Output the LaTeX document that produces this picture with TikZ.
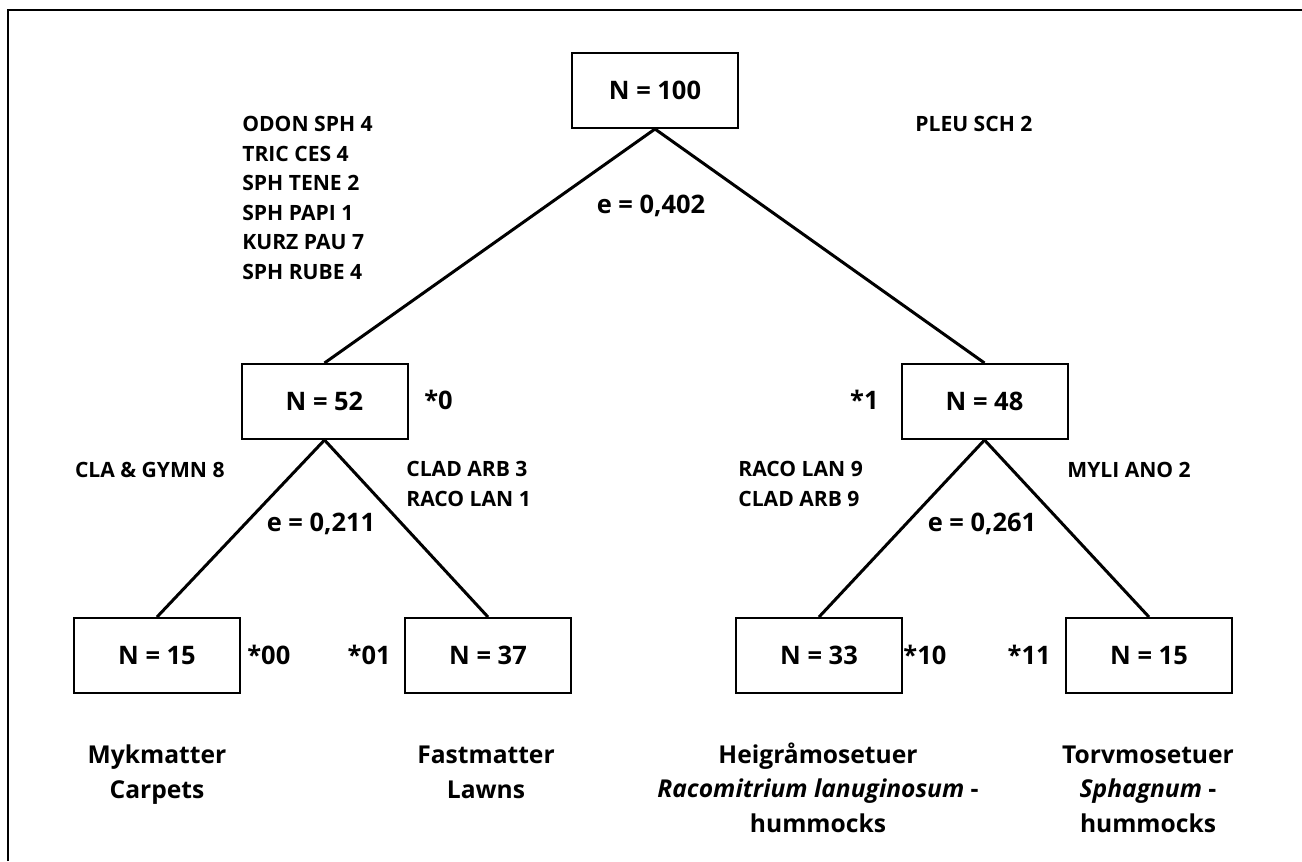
\documentclass[tikz,border=0pt]{standalone}
\usepackage{fontspec}
\setmainfont{Open Sans}

\begin{document}
\begin{tikzpicture}
[x=0.2mm, y=-0.2mm,
groupnode/.style={rectangle, draw=black, line width=0.4mm, minimum width=33.2mm, minimum height=15mm, font=\fontsize{14.5}{17}\selectfont\bfseries},
speciesnode/.style={align=left, inner sep=0pt, font=\fontsize{12}{16.8}\selectfont\bfseries},
splitnode/.style={inner sep=0pt, font=\fontsize{14.5}{17}\selectfont\bfseries},
typenode/.style={align=center, anchor=base, inner sep=0pt, font=\fontsize{14}{19.4}\selectfont\bfseries},
connect/.style={line width=0.6mm}]
\useasboundingbox (0,0) rectangle (1302,861);
\draw[line width=0.4mm] (8,861) |- (1302,10);
\node[groupnode]	(group100) at (655, 90.5) {N = 100};
\node[groupnode]	(group0) at (324.5, 401.5) {N = 52};
\node[groupnode]	(group1) at (984.5, 401.5) {N = 48};
\node[groupnode]	(group00) at (157, 655.5) {N = 15};
\node[groupnode]	(group01) at (488, 655.5) {N = 37};
\node[groupnode]	(group10) at (819, 655.5) {N = 33};
\node[groupnode]	(group11) at (1149, 655.5) {N = 15};
\draw[connect] (group100.south) -- (group0.north);
\draw[connect] (group100.south) -- (group1.north);
\draw[connect] (group0.south) -- (group00.north);
\draw[connect] (group0.south) -- (group01.north);
\draw[connect] (group1.south) -- (group10.north);
\draw[connect] (group1.south) -- (group11.north);
\node[splitnode, anchor=base] (split100) at (651, 213) {e = 0,402};
\node[splitnode, anchor=base] (split0) at (321, 531) {e = 0,211};
\node[splitnode, anchor=base] (split1) at (982, 531) {e = 0,261};
\node[splitnode, anchor=base west] (code0) at (424, 409) {*0};
\node[splitnode, anchor=base east] (code1) at (879, 409) {*1};
\node[splitnode, anchor=base west] (code00) at (247, 664) {*00};
\node[splitnode, anchor=base east] (code01) at (391, 664) {*01};
\node[splitnode, anchor=base west] (code10) at (903, 664) {*10};
\node[splitnode, anchor=base east] (code11) at (1051, 664) {*11};
\node[speciesnode, anchor=base west] (species0) at (242, 279.5) {ODON SPH 4\\TRIC CES 4\\SPH TENE 2\\SPH PAPI 1\\KURZ PAU 7\\SPH RUBE 4};
\node[speciesnode, anchor=base west] (species1) at (915, 131) {PLEU SCH 2};
\node[speciesnode, anchor=base east] (species00) at (225, 477) {CLA \& GYMN 8};
\node[speciesnode, anchor=base west] (species01) at (406, 506) {CLAD ARB 3\\RACO LAN 1};
\node[speciesnode, anchor=base west] (species10) at (738, 506) {RACO LAN 9\\CLAD ARB 9};
\node[speciesnode, anchor=base west] (species11) at (1067, 477) {MYLI ANO 2};
\node[typenode] (type00) at (157, 798) {Mykmatter\\Carpets};
\node[typenode] (type01) at (486, 798) {Fastmatter\\Lawns};
\node[typenode] (type10) at (818, 832) {Heigråmosetuer\\\textit{Racomitrium lanuginosum} -\\hummocks};
\node[typenode] (type11) at (1148, 832) {Torvmosetuer\\\textit{Sphagnum} -\\hummocks};
\end{tikzpicture}
\end{document}
